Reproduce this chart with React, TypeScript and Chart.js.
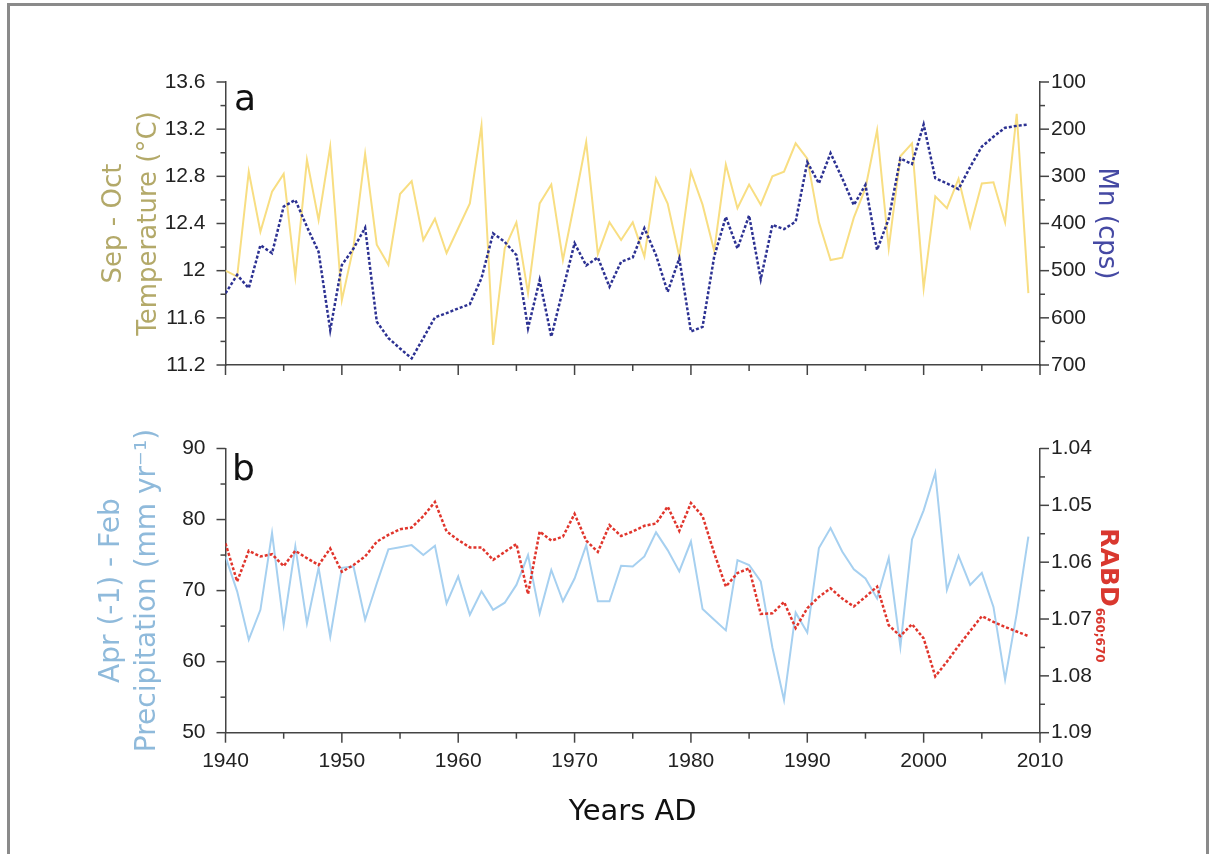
import React, { useEffect, useRef } from 'react';
import { Chart, registerables } from 'chart.js';

Chart.register(...registerables);

// ---------- data ----------
const years = [
  1940, 1941, 1942, 1943, 1944, 1945, 1946, 1947, 1948, 1949,
  1950, 1951, 1952, 1953, 1954, 1955, 1956, 1957, 1958, 1959,
  1960, 1961, 1962, 1963, 1964, 1965, 1966, 1967, 1968, 1969,
  1970, 1971, 1972, 1973, 1974, 1975, 1976, 1977, 1978, 1979,
  1980, 1981, 1982, 1983, 1984, 1985, 1986, 1987, 1988, 1989,
  1990, 1991, 1992, 1993, 1994, 1995, 1996, 1997, 1998, 1999,
  2000, 2001, 2002, 2003, 2004, 2005, 2006, 2007, 2008, 2009,
];

// Sep - Oct temperature (°C)
const temperature = [
  12.0, 11.95, 12.84, 12.33, 12.67, 12.82, 11.95, 12.94, 12.43, 13.05,
  11.75, 12.2, 12.99, 12.22, 12.05, 12.65, 12.76, 12.26, 12.44, 12.15,
  12.36, 12.57, 13.23, 11.37, 12.19, 12.41, 11.81, 12.57, 12.73, 12.09,
  12.58, 13.09, 12.14, 12.41, 12.26, 12.41, 12.12, 12.78, 12.57, 12.12,
  12.84, 12.56, 12.17, 12.9, 12.53, 12.73, 12.56, 12.8, 12.84, 13.08,
  12.95, 12.41, 12.09, 12.11, 12.45, 12.7, 13.19, 12.19, 12.97, 13.08,
  11.85, 12.63, 12.53, 12.78, 12.37, 12.74, 12.75, 12.41, 13.33, 11.81,
];

// Mn (cps)
const manganese = [
  548, 509, 537, 446, 463, 364, 350, 407, 460, 626,
  488, 453, 409, 608, 643, 665, 686, 643, 599, 590,
  580, 571, 516, 421, 439, 467, 622, 520, 640, 540,
  442, 489, 472, 534, 481, 472, 410, 467, 545, 474,
  629, 619, 470, 386, 453, 383, 518, 403, 412, 396,
  270, 315, 251, 304, 361, 318, 456, 390, 262, 274,
  190, 304, 315, 327, 280, 237, 216, 197, 193, 190,
];

// Apr(-1) - Feb precipitation (mm/yr)
const precipitation = [
  74.8, 69.9, 63.1, 67.3, 78.1, 65.2, 76.2, 65.4, 73.2, 63.5,
  73.2, 73.4, 65.9, 71.0, 75.8, 76.1, 76.4, 75.0, 76.3, 68.2,
  72.0, 66.6, 69.9, 67.3, 68.3, 70.8, 75.0, 66.8, 72.9, 68.5,
  71.7, 76.4, 68.5, 68.5, 73.5, 73.4, 74.8, 78.2, 75.7, 72.7,
  76.9, 67.4, 65.9, 64.4, 74.3, 73.6, 71.3, 62.0, 54.6, 66.9,
  64.1, 76.0, 78.8, 75.5, 73.0, 71.7, 68.9, 74.6, 62.1, 77.2,
  81.3, 86.6, 70.1, 74.9, 70.8, 72.5, 67.7, 57.5, 66.8, 77.6,
];

// RABD 660;670
const rabd = [
  1.0567, 1.0634, 1.058, 1.059, 1.0586, 1.0607, 1.058, 1.0593, 1.0605, 1.0576,
  1.0617, 1.0605, 1.059, 1.0564, 1.0552, 1.0542, 1.0539, 1.0519, 1.0494, 1.0546,
  1.0561, 1.0574, 1.0574, 1.0596, 1.0582, 1.0568, 1.0656, 1.0546, 1.0562, 1.0555,
  1.0515, 1.0562, 1.0582, 1.0535, 1.0554, 1.0546, 1.0536, 1.0532, 1.0502, 1.0545,
  1.0496, 1.0519, 1.0584, 1.0643, 1.0619, 1.0611, 1.0691, 1.069, 1.067, 1.0716,
  1.0681, 1.0661, 1.0646, 1.0664, 1.0678, 1.0661, 1.0643, 1.0711, 1.073, 1.0709,
  1.0734, 1.0801, 1.0775, 1.0747, 1.0721, 1.0695, 1.0705, 1.0714, 1.0722, 1.073,
];

const tempTitle = ['Sep - Oct', 'Temperature (°C)'];
const mnTitle = 'Mn (cps)';
const precipTitle = ['Apr (-1) - Feb', 'Precipitation (mm yr⁻¹)'];
const xTitle = 'Years AD';

// ---------- styling constants ----------
const W = 1216;
const TOP_H = 400;
const BOT_H = 454;
const LEFT_W = 225.5;
const RIGHT_W = 176;
const AXIS_COLOR = '#444';
const TICK_FONT = { family: 'Liberation Sans, Arial, sans-serif', size: 21 };
const TITLE_FAMILY = 'DejaVu Sans, Verdana, sans-serif';

const isMult = (v: number, step: number) => Math.abs(v / step - Math.round(v / step)) < 1e-6;

type TickCfg = Record<string, { major: (v: number) => boolean; majorLen: number; minorLen: number }>;

function makeTickPlugin(cfg: TickCfg) {
  return {
    id: 'customTicks',
    afterDraw(chart: any) {
      const ctx = chart.ctx;
      ctx.save();
      ctx.strokeStyle = AXIS_COLOR;
      ctx.lineWidth = 1.5;
      Object.keys(cfg).forEach((id) => {
        const s = chart.scales[id];
        if (!s) return;
        const c = cfg[id];
        s.ticks.forEach((t: any) => {
          const p = s.getPixelForValue(t.value);
          const len = c.major(t.value) ? c.majorLen : c.minorLen;
          ctx.beginPath();
          if (s.position === 'left') {
            ctx.moveTo(s.right, p);
            ctx.lineTo(s.right - len, p);
          } else if (s.position === 'right') {
            ctx.moveTo(s.left, p);
            ctx.lineTo(s.left + len, p);
          } else {
            ctx.moveTo(p, s.top);
            ctx.lineTo(p, s.top + len);
          }
          ctx.stroke();
        });
      });
      ctx.restore();
    },
  };
}

function makeTextPlugin(draw: (ctx: CanvasRenderingContext2D) => void) {
  return {
    id: 'extraText',
    afterDraw(chart: any) {
      const ctx = chart.ctx as CanvasRenderingContext2D;
      ctx.save();
      draw(ctx);
      ctx.restore();
    },
  };
}

const xScale = (showLabels: boolean, height: number, withTitle: boolean) => ({
  type: 'linear',
  position: 'bottom',
  min: 1940,
  max: 2010,
  grid: { display: false, drawTicks: false },
  border: { display: true, color: AXIS_COLOR, width: 1.5 },
  ticks: {
    stepSize: 5,
    autoSkip: false,
    maxRotation: 0,
    padding: 16,
    color: '#222',
    font: TICK_FONT,
    callback: (v: number) => (showLabels && isMult(v, 10) ? String(v) : ''),
  },
  title: withTitle
    ? {
        display: true,
        text: xTitle,
        color: '#111',
        font: { family: TITLE_FAMILY, size: 29, lineHeight: 1.2 },
        padding: { top: 0, bottom: 24 },
      }
    : { display: false },
  afterFit: (s: any) => {
    s.height = height;
  },
});

const yScale = (opts: any) => ({
  type: 'linear',
  grid: { display: false, drawTicks: false },
  border: { display: true, color: AXIS_COLOR, width: 1.5 },
  ...opts,
});

function TopChart() {
  const ref = useRef<HTMLCanvasElement>(null);
  useEffect(() => {
    const chart = new Chart(ref.current as HTMLCanvasElement, {
      type: 'line',
      data: {
        datasets: [
          {
            label: 'Temperature',
            data: years.map((y, i) => ({ x: y, y: temperature[i] })),
            yAxisID: 'yT',
            borderColor: '#f8de82',
            borderWidth: 2,
            pointRadius: 0,
            tension: 0,
            order: 2,
          },
          {
            label: 'Mn',
            data: years.map((y, i) => ({ x: y, y: manganese[i] })),
            yAxisID: 'yMn',
            borderColor: '#2c3192',
            borderWidth: 2.5,
            borderDash: [3, 2],
            pointRadius: 0,
            tension: 0,
            order: 1,
          },
        ],
      },
      options: {
        responsive: false,
        animation: false,
        events: [],
        layout: { padding: { top: 82, left: 0, right: 0, bottom: 0 }, autoPadding: false },
        plugins: { legend: { display: false }, tooltip: { enabled: false } },
        scales: {
          x: xScale(false, TOP_H - 365, false),
          yT: yScale({
            position: 'left',
            min: 11.2,
            max: 13.6,
            ticks: {
              stepSize: 0.2,
              autoSkip: false,
              padding: 20,
              color: '#222',
              font: TICK_FONT,
              callback: (v: number) => (isMult(v, 0.4) ? String(Math.round(v * 10) / 10) : ''),
            },
            title: {
              display: true,
              text: tempTitle,
              color: '#b3a969',
              font: { family: TITLE_FAMILY, size: 26, lineHeight: 1.35 },
              padding: { top: 97, bottom: 0 },
            },
            afterFit: (s: any) => {
              s.width = LEFT_W;
            },
          }),
          yMn: yScale({
            position: 'right',
            min: 100,
            max: 700,
            reverse: true,
            ticks: {
              stepSize: 50,
              autoSkip: false,
              padding: 11,
              color: '#222',
              font: TICK_FONT,
              callback: (v: number) => (isMult(v, 100) ? String(v) : ''),
            },
            title: {
              display: true,
              text: mnTitle,
              color: '#4549a3',
              font: { family: TITLE_FAMILY, size: 26, lineHeight: 1.35 },
              padding: { top: 93, bottom: 0 },
            },
            afterFit: (s: any) => {
              s.width = RIGHT_W;
            },
          }),
        },
      } as any,
      plugins: [
        makeTickPlugin({
          x: { major: (v) => isMult(v, 10), majorLen: 10, minorLen: 6 },
          yT: { major: (v) => isMult(v, 0.4), majorLen: 9, minorLen: 5 },
          yMn: { major: (v) => isMult(v, 100), majorLen: 9, minorLen: 5 },
        }),
        makeTextPlugin((ctx) => {
          ctx.fillStyle = '#111';
          ctx.font = '36px ' + TITLE_FAMILY;
          ctx.textBaseline = 'alphabetic';
          ctx.textAlign = 'left';
          ctx.fillText('a', 234, 110);
        }),
      ] as any,
    });
    return () => chart.destroy();
  }, []);
  return (
    <canvas
      ref={ref}
      width={W}
      height={TOP_H}
      style={{ position: 'absolute', left: 0, top: 0, width: W, height: TOP_H }}
    />
  );
}

function BottomChart() {
  const ref = useRef<HTMLCanvasElement>(null);
  useEffect(() => {
    const chart = new Chart(ref.current as HTMLCanvasElement, {
      type: 'line',
      data: {
        datasets: [
          {
            label: 'Precipitation',
            data: years.map((y, i) => ({ x: y, y: precipitation[i] })),
            yAxisID: 'yP',
            borderColor: '#a6d0f0',
            borderWidth: 2,
            pointRadius: 0,
            tension: 0,
            order: 2,
          },
          {
            label: 'RABD',
            data: years.map((y, i) => ({ x: y, y: rabd[i] })),
            yAxisID: 'yR',
            borderColor: '#e0352c',
            borderWidth: 2.5,
            borderDash: [3, 2],
            pointRadius: 0,
            tension: 0,
            order: 1,
          },
        ],
      },
      options: {
        responsive: false,
        animation: false,
        events: [],
        layout: { padding: { top: 48.5, left: 0, right: 0, bottom: 0 }, autoPadding: false },
        plugins: { legend: { display: false }, tooltip: { enabled: false } },
        scales: {
          x: xScale(true, BOT_H - 332.7, true),
          yP: yScale({
            position: 'left',
            min: 50,
            max: 90,
            ticks: {
              stepSize: 5,
              autoSkip: false,
              padding: 20,
              color: '#222',
              font: TICK_FONT,
              callback: (v: number) => (isMult(v, 10) ? String(v) : ''),
            },
            title: {
              display: true,
              text: precipTitle,
              color: '#8fbadb',
              font: { family: TITLE_FAMILY, size: 28, lineHeight: 1.3 },
              padding: { top: 93.5, bottom: 0 },
            },
            afterFit: (s: any) => {
              s.width = LEFT_W;
            },
          }),
          yR: yScale({
            position: 'right',
            min: 1.04,
            max: 1.09,
            reverse: true,
            ticks: {
              stepSize: 0.005,
              autoSkip: false,
              padding: 11,
              color: '#222',
              font: TICK_FONT,
              callback: (v: number) => (isMult(v, 0.01) ? v.toFixed(2) : ''),
            },
            afterFit: (s: any) => {
              s.width = RIGHT_W;
            },
          }),
        },
      } as any,
      plugins: [
        makeTickPlugin({
          x: { major: (v) => isMult(v, 10), majorLen: 10, minorLen: 6 },
          yP: { major: (v) => isMult(v, 10), majorLen: 9, minorLen: 5 },
          yR: { major: (v) => isMult(v, 0.01), majorLen: 9, minorLen: 5 },
        }),
        makeTextPlugin((ctx) => {
          ctx.fillStyle = '#111';
          ctx.font = '36px ' + TITLE_FAMILY;
          ctx.textBaseline = 'alphabetic';
          ctx.textAlign = 'left';
          ctx.fillText('b', 232, 80);
          // RABD660;670 rotated title
          ctx.translate(1110, 595 - 400);
          ctx.rotate(Math.PI / 2);
          ctx.fillStyle = '#d9382f';
          const big = 'bold 25px ' + TITLE_FAMILY;
          const small = 'bold 12px ' + TITLE_FAMILY;
          ctx.font = big;
          const w1 = ctx.measureText('RABD').width;
          ctx.font = small;
          const w2 = ctx.measureText('660;670').width;
          const start = -(w1 + w2) / 2;
          ctx.font = big;
          ctx.fillText('RABD', start, 9);
          ctx.font = small;
          ctx.fillText('660;670', start + w1 + 1, 14);
        }),
      ] as any,
    });
    return () => chart.destroy();
  }, []);
  return (
    <canvas
      ref={ref}
      width={W}
      height={BOT_H}
      style={{ position: 'absolute', left: 0, top: TOP_H, width: W, height: BOT_H }}
    />
  );
}

export default function App() {
  return (
    <div
      style={{
        position: 'absolute',
        left: 0,
        top: 0,
        width: W,
        height: 854,
        background: '#fff',
        overflow: 'hidden',
      }}
    >
      <div
        style={{
          position: 'absolute',
          left: 7,
          top: 3,
          width: 1202,
          height: 900,
          boxSizing: 'border-box',
          border: '3px solid #8a8a8a',
        }}
      />
      <TopChart />
      <BottomChart />
    </div>
  );
}
